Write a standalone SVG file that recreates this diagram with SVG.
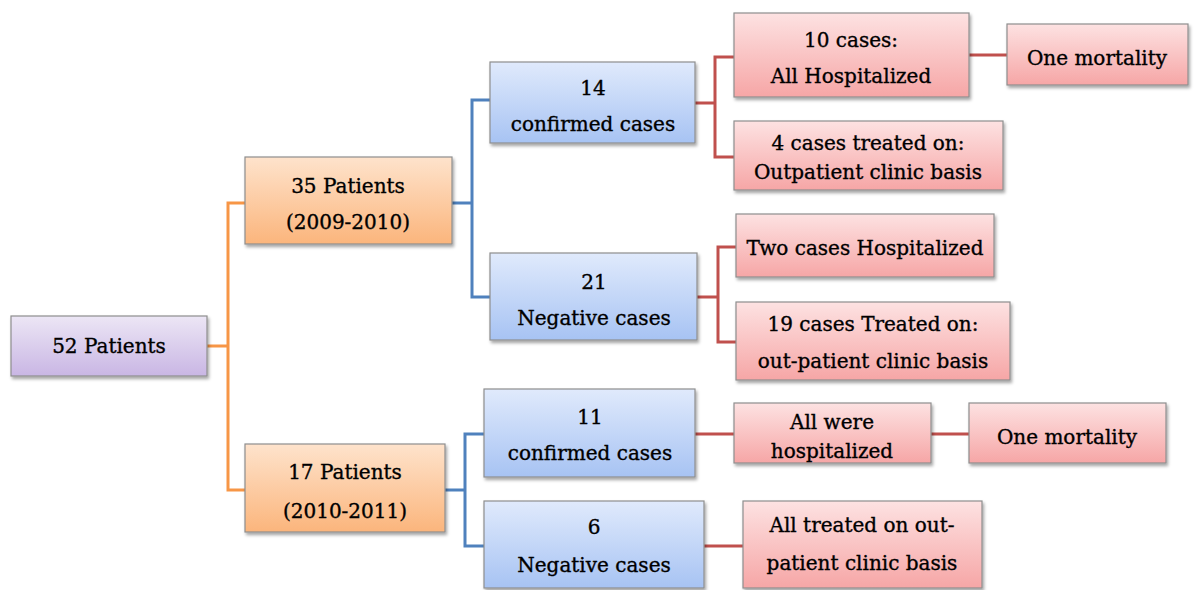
<svg xmlns="http://www.w3.org/2000/svg" width="1194" height="590" viewBox="0 0 1194 590">
<style>
.box{stroke:#8e8e8e;stroke-width:1.2;filter:url(#sh)}
.t{font-family:"DejaVu Serif","Liberation Serif",serif;font-size:20px;fill:#000;stroke:#000;stroke-width:0.35;text-anchor:middle}
.c{fill:none;stroke-width:3}
.o{stroke:#f79646}.b{stroke:#4f81bd}.r{stroke:#c0504d}
</style>
<defs>
<linearGradient id="gp" x1="0" y1="0" x2="0" y2="1"><stop offset="0" stop-color="#ece6f5"/><stop offset="1" stop-color="#c9b6e4"/></linearGradient>
<linearGradient id="go" x1="0" y1="0" x2="0" y2="1"><stop offset="0" stop-color="#fee3cc"/><stop offset="1" stop-color="#fbb57c"/></linearGradient>
<linearGradient id="gb" x1="0" y1="0" x2="0" y2="1"><stop offset="0" stop-color="#e0eafc"/><stop offset="1" stop-color="#a7c3f3"/></linearGradient>
<linearGradient id="gr" x1="0" y1="0" x2="0" y2="1"><stop offset="0" stop-color="#fde2e2"/><stop offset="1" stop-color="#f6a6a6"/></linearGradient>
<filter id="sh" x="-10%" y="-10%" width="120%" height="130%"><feDropShadow dx="1.5" dy="2.5" stdDeviation="1.5" flood-color="#000" flood-opacity="0.35"/></filter>
</defs>
<g id="connectors">
<path class="c o" d="M207 346H228M245 203H228V490H245"/>
<path class="c b" d="M452 203H472M491 100H472V297H491"/>
<path class="c b" d="M445 490H465M484 434H465V546H484"/>
<path class="c r" d="M695 103H715M734 57H715V157H734"/>
<path class="c r" d="M969 55H1007"/>
<path class="c r" d="M697 297H718M736 247H718V342H736"/>
<path class="c r" d="M695 434H734"/>
<path class="c r" d="M931 434H969"/>
<path class="c r" d="M704 546H743"/>
</g>
<g id="n52"><rect class="box" x="11" y="316" width="196" height="60" fill="url(#gp)"/><text class="t" x="109" y="353">52 Patients</text></g>
<g id="n35"><rect class="box" x="245" y="157" width="207" height="87" fill="url(#go)"/><text class="t" x="348" y="193">35 Patients</text><text class="t" x="348" y="229">(2009-2010)</text></g>
<g id="n17"><rect class="box" x="245" y="444" width="200" height="88" fill="url(#go)"/><text class="t" x="345" y="479">17 Patients</text><text class="t" x="345" y="518">(2010-2011)</text></g>
<g id="n14"><rect class="box" x="490" y="62" width="205" height="81" fill="url(#gb)"/><text class="t" x="593" y="95">14</text><text class="t" x="593" y="131">confirmed cases</text></g>
<g id="n21"><rect class="box" x="490" y="253" width="207" height="87" fill="url(#gb)"/><text class="t" x="594" y="289">21</text><text class="t" x="594" y="325">Negative cases</text></g>
<g id="n11"><rect class="box" x="484" y="389" width="211" height="88" fill="url(#gb)"/><text class="t" x="590" y="424">11</text><text class="t" x="590" y="460">confirmed cases</text></g>
<g id="n6"><rect class="box" x="484" y="501" width="220" height="87" fill="url(#gb)"/><text class="t" x="594" y="534">6</text><text class="t" x="594" y="572">Negative cases</text></g>
<g id="n10"><rect class="box" x="734" y="13" width="235" height="84" fill="url(#gr)"/><text class="t" x="851" y="47">10 cases:</text><text class="t" x="851" y="83">All Hospitalized</text></g>
<g id="m1"><rect class="box" x="1007" y="24" width="181" height="61" fill="url(#gr)"/><text class="t" x="1097" y="65">One mortality</text></g>
<g id="n4"><rect class="box" x="734" y="121" width="269" height="69" fill="url(#gr)"/><text class="t" x="868" y="150">4 cases treated on:</text><text class="t" x="868" y="179">Outpatient clinic basis</text></g>
<g id="n2"><rect class="box" x="736" y="214" width="258" height="63" fill="url(#gr)"/><text class="t" x="865" y="255">Two cases Hospitalized</text></g>
<g id="n19"><rect class="box" x="736" y="302" width="274" height="78" fill="url(#gr)"/><text class="t" x="873" y="331">19 cases Treated on:</text><text class="t" x="873" y="368">out-patient clinic basis</text></g>
<g id="nall"><rect class="box" x="734" y="403" width="197" height="60" fill="url(#gr)"/><text class="t" x="832" y="429">All were</text><text class="t" x="832" y="458">hospitalized</text></g>
<g id="m2"><rect class="box" x="969" y="403" width="197" height="60" fill="url(#gr)"/><text class="t" x="1067" y="444">One mortality</text></g>
<g id="nout"><rect class="box" x="743" y="501" width="239" height="87" fill="url(#gr)"/><text class="t" x="862" y="532">All treated on out-</text><text class="t" x="862" y="570">patient clinic basis</text></g>
</svg>
